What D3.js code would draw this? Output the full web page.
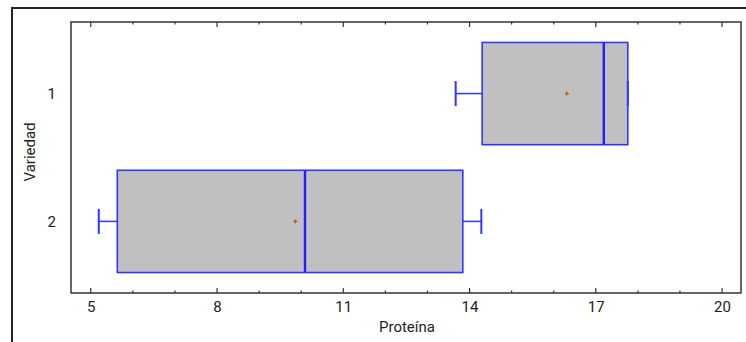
<!DOCTYPE html>
<html>
<head>
<meta charset="utf-8">
<script src="https://cdn.jsdelivr.net/npm/d3@7"></script>
<style>
  body { margin: 0; background: #fff; }
  text { font-family: Roboto, "Liberation Sans", sans-serif; fill: #222; }
</style>
</head>
<body>
<svg id="chart" width="746" height="342"></svg>
<script>
// box plot data (Proteína by Variedad)
const categories = ["1", "2"];
const mins = [13.67, 5.19];
const q1s = [14.30, 5.63];
const medians = [17.19, 10.09];
const q3s = [17.76, 13.84];
const maxs = [17.76, 14.28];
const means = [16.31, 9.86];
const xTicks = [5, 8, 11, 14, 17, 20];
const xMinor = d3.range(5, 21);

const svg = d3.select("#chart");
const margin = { left: 71, right: 5, top: 22, bottom: 49 };
const width = 746, height = 342;
const fontSize = "15px";

const x = d3.scaleLinear()
  .domain([4.53, 20.45])
  .range([margin.left, width - margin.right]);

const y = d3.scalePoint()
  .domain(categories)
  .range([margin.top, height - margin.bottom])
  .padding(0.56);

const boxH = y.step() * 0.8;
const capH = 25;

// outer frame (top + left)
svg.append("path")
  .attr("d", "M12,342 V8 H746")
  .attr("fill", "none")
  .attr("stroke", "#222")
  .attr("stroke-width", 2);

// plot frame
svg.append("rect")
  .attr("x", margin.left)
  .attr("y", margin.top)
  .attr("width", width - margin.right - margin.left)
  .attr("height", height - margin.bottom - margin.top)
  .attr("fill", "none")
  .attr("stroke", "#333")
  .attr("stroke-width", 1.5);

/* ========== AXES ========== */
const bottomY = height - margin.bottom;

const xAxis = svg.append("g").attr("transform", `translate(0,${bottomY})`)
  .call(d3.axisBottom(x).tickValues(xTicks).tickSize(0).tickPadding(8));
xAxis.select(".domain").remove();
xAxis.selectAll("text").style("font-size", fontSize).attr("fill", "#222");

// inside ticks (top and bottom)
const tickG = svg.append("g").attr("stroke", "#333").attr("stroke-width", 1.2);
[[margin.top, 1], [bottomY, -1]].forEach(([yy, dir]) => {
  tickG.selectAll(null).data(xMinor).join("line")
    .attr("x1", d => x(d)).attr("x2", d => x(d))
    .attr("y1", yy)
    .attr("y2", d => yy + dir * (xTicks.includes(d) ? 5 : 2.5));
});

const yAxis = svg.append("g").attr("transform", `translate(${margin.left},0)`)
  .call(d3.axisLeft(y).tickSize(0).tickPadding(15));
yAxis.select(".domain").remove();
yAxis.selectAll("text").style("font-size", fontSize).attr("fill", "#222");

svg.append("text")
  .attr("x", 407)
  .attr("y", 332)
  .attr("text-anchor", "middle")
  .style("font-size", fontSize)
  .text("Proteína");

svg.append("text")
  .attr("transform", "translate(35,152) rotate(-90)")
  .attr("text-anchor", "middle")
  .style("font-size", fontSize)
  .text("Variedad");

/* ========== BOXES ========== */
const blue = "#3434ff";
const boxes = svg.append("g").selectAll("g").data(categories).join("g");

// whiskers
boxes.append("line")
  .attr("x1", (d, i) => x(mins[i])).attr("x2", (d, i) => x(q1s[i]))
  .attr("y1", d => y(d)).attr("y2", d => y(d))
  .attr("stroke", blue).attr("stroke-width", 1.5);
boxes.append("line")
  .attr("x1", (d, i) => x(q3s[i])).attr("x2", (d, i) => x(maxs[i]))
  .attr("y1", d => y(d)).attr("y2", d => y(d))
  .attr("stroke", blue).attr("stroke-width", 1.5);

boxes.append("rect")
  .attr("x", (d, i) => x(q1s[i]))
  .attr("width", (d, i) => x(q3s[i]) - x(q1s[i]))
  .attr("y", d => y(d) - boxH / 2)
  .attr("height", boxH)
  .attr("fill", "#c0c0c0")
  .attr("stroke", blue)
  .attr("stroke-width", 1.6);

// caps
[mins, maxs].forEach(arr => {
  boxes.append("line")
    .attr("x1", (d, i) => x(arr[i])).attr("x2", (d, i) => x(arr[i]))
    .attr("y1", d => y(d) - capH / 2).attr("y2", d => y(d) + capH / 2)
    .attr("stroke", blue).attr("stroke-width", 2);
});

// median
boxes.append("line")
  .attr("x1", (d, i) => x(medians[i])).attr("x2", (d, i) => x(medians[i]))
  .attr("y1", d => y(d) - boxH / 2).attr("y2", d => y(d) + boxH / 2)
  .attr("stroke", "#1f1fff").attr("stroke-width", 2.4);

// mean marker
boxes.append("path")
  .attr("d", (d, i) => {
    const cx = x(means[i]), cy = y(d);
    return `M${cx - 2},${cy} H${cx + 2} M${cx},${cy - 2} V${cy + 2}`;
  })
  .attr("stroke", "#b0602a").attr("stroke-width", 1.3);
</script>
</body>
</html>
